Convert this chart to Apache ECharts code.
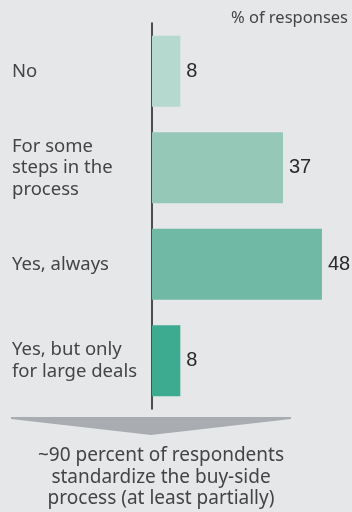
<!DOCTYPE html>
<html><head><meta charset="utf-8">
<script src="https://cdn.jsdelivr.net/npm/echarts@6/dist/echarts.min.js"></script>
<style>html,body{margin:0;padding:0;background:#e6e7e9;}#c{width:352px;height:512px;}</style>
</head><body><div id="c"></div>
<script>
const categories = ["No", "For some\nsteps in the\nprocess", "Yes, always", "Yes, but only\nfor large deals"];
const values = [8, 37, 48, 8];
const barColors = ["#b5d9cf", "#96c8b8", "#70b9a4", "#3dab8f"];
const unitLabel = "% of responses";
const footnote = "~90 percent of respondents\nstandardize the buy-side\nprocess (at least partially)";

const FONT = "Noto Sans";
const chart = echarts.init(document.getElementById('c'), null, {renderer: 'canvas'});
chart.setOption({
  backgroundColor: '#e6e7e9',
  animation: false,
  grid: {left: 152, right: 23, top: 23, bottom: 103},
  xAxis: {type: 'value', min: 0, max: 50, show: false},
  yAxis: {
    type: 'category', data: categories, inverse: true,
    axisLine: {show: true, lineStyle: {color: '#1a1a1a', width: 1.5}},
    axisTick: {show: false},
    axisLabel: {align: 'left', margin: 140, fontFamily: FONT, fontSize: 18.5, lineHeight: 21.5, color: '#444'}
  },
  series: [{
    type: 'bar', barWidth: 71,
    data: values.map((v, i) => ({value: v, itemStyle: {color: barColors[i]}})),
    label: {show: true, position: 'right', distance: 6, fontFamily: 'Liberation Sans', fontSize: 20, color: '#2a2a2a'}
  }],
  graphic: [
    {type: 'text', right: 4, top: 10, style: {text: unitLabel, fontFamily: FONT, fontSize: 16.5, fill: '#444'}},
    {type: 'polygon', shape: {points: [[11, 417], [291, 417], [291, 419], [151, 435], [11, 419]]}, style: {fill: '#a9adb2'}},
    {type: 'text', x: 161, y: 445, style: {text: footnote, textAlign: 'center', fontFamily: FONT, fontSize: 19, lineHeight: 21.5, fill: '#444'}}
  ]
});
</script></body></html>
